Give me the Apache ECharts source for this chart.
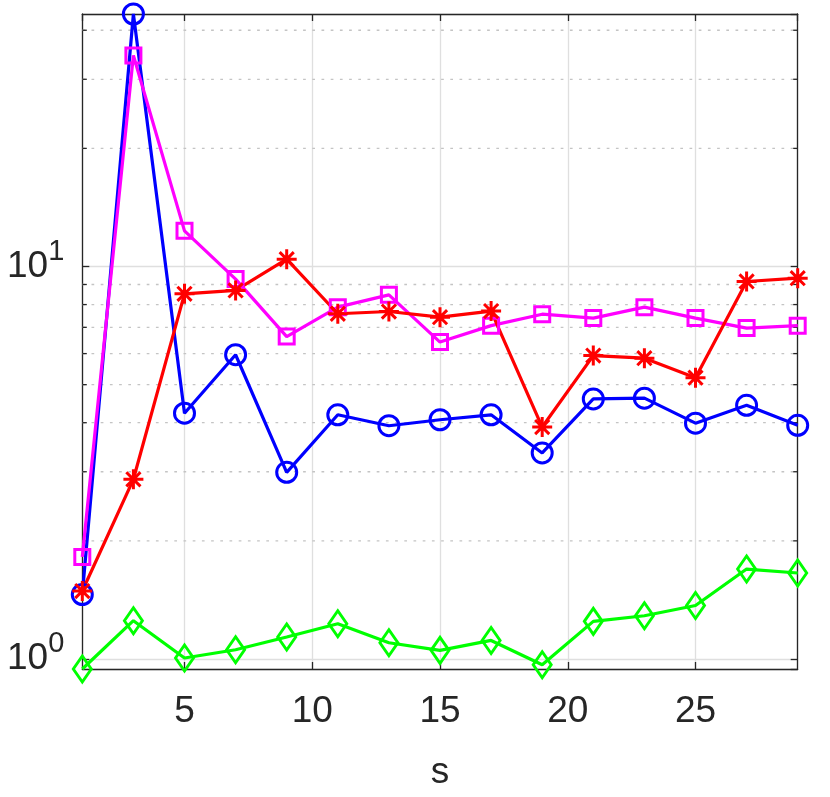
<!DOCTYPE html>
<html>
<head>
<meta charset="utf-8">
<script src="https://cdn.jsdelivr.net/npm/echarts@6/dist/echarts.min.js"></script>
<style>
  html, body { margin: 0; padding: 0; background: #fff; }
  #chart_1 { width: 830px; height: 797px; }
</style>
</head>
<body>
<div id="chart_1"></div>
<script>
// s values (odd steps)
var sValues = [1, 3, 5, 7, 9, 11, 13, 15, 17, 19, 21, 23, 25, 27, 29];
// series
var blueCircle = [1.46, 44.0, 4.23, 5.96, 2.99, 4.19, 3.93, 4.07, 4.19, 3.35, 4.60, 4.62, 3.99, 4.43, 3.94];
var redStar = [1.49, 2.87, 8.52, 8.69, 10.44, 7.58, 7.68, 7.43, 7.70, 3.90, 5.93, 5.84, 5.21, 9.16, 9.34];
var magentaSquare = [1.82, 34.5, 12.33, 9.29, 6.63, 7.88, 8.47, 6.42, 7.07, 7.56, 7.39, 7.88, 7.39, 6.97, 7.07];
var greenDiamond = [0.943, 1.252, 1.006, 1.056, 1.138, 1.23, 1.10, 1.052, 1.115, 0.967, 1.247, 1.289, 1.369, 1.695, 1.656];
// minor log ticks
var minorTicks = [2, 3, 4, 5, 6, 7, 8, 9, 20, 30, 40];
var yMin = 0.943, yMax = 44.0;
var xMin = 1, xMax = 29;

var textColor = '#262626';
var fontFamily = '"Liberation Sans", Arial, Helvetica, sans-serif';

var chart_1 = echarts.init(document.getElementById('chart_1'));

function pairs(vals) {
    var out = [];
    for (var i = 0; i < sValues.length; i++) {
        out.push([sValues[i], vals[i]]);
    }
    return out;
}

var starPath = 'path://M0,-10L0,10M-10,0L10,0M-7.07,-7.07L7.07,7.07M-7.07,7.07L7.07,-7.07';

function lineSeries(vals, color, symbol, size) {
    return {
        type: 'line',
        data: pairs(vals),
        symbol: symbol,
        symbolSize: size,
        showAllSymbol: true,
        clip: false,
        z: 3,
        lineStyle: { color: color, width: 3.2 },
        itemStyle: { color: 'transparent', borderColor: color, borderWidth: 3 },
        emphasis: { disabled: true }
    };
}

var option = {
    animation: false,
    backgroundColor: '#fff',
    textStyle: { fontFamily: fontFamily },
    grid: { left: 82.3, right: 32.3, top: 14, bottom: 128, containLabel: false },
    xAxis: [{
        type: 'value',
        min: xMin,
        max: xMax,
        name: 's',
        nameLocation: 'middle',
        nameGap: 85,
        nameTextStyle: { color: textColor, fontSize: 37, fontFamily: fontFamily },
        axisLine: { show: true, lineStyle: { color: textColor, width: 1.3 } },
        axisTick: { show: true, inside: true, length: 7, lineStyle: { color: textColor, width: 1.3 } },
        axisLabel: { color: textColor, fontSize: 37, margin: 24, showMinLabel: false, showMaxLabel: false, fontFamily: fontFamily },
        splitLine: { show: true, lineStyle: { color: '#dfdfdf', width: 1.3 } }
    }, {
        type: 'value',
        position: 'top',
        min: xMin,
        max: xMax,
        axisLine: { show: true, lineStyle: { color: textColor, width: 1.3 } },
        axisTick: { show: true, inside: true, length: 7, lineStyle: { color: textColor, width: 1.3 } },
        axisLabel: { show: false },
        splitLine: { show: false }
    }],
    yAxis: [{
        type: 'log',
        logBase: 10,
        min: yMin,
        max: yMax,
        axisLine: { show: true, lineStyle: { color: textColor, width: 1.3 } },
        axisTick: { show: true, inside: true, length: 7, lineStyle: { color: textColor, width: 1.3 } },
        axisLabel: {
            color: textColor,
            margin: 18,
            showMinLabel: false,
            showMaxLabel: false,
            formatter: function (v) {
                var e = Math.round(Math.log(v) / Math.LN10);
                return '{b|10}{s|' + e + '}';
            },
            rich: {
                b: { fontSize: 37, color: textColor, fontFamily: fontFamily, verticalAlign: 'bottom', lineHeight: 37 },
                s: { fontSize: 29, color: textColor, fontFamily: fontFamily, verticalAlign: 'bottom', lineHeight: 29, padding: [0, 0, 19, 0] }
            }
        },
        splitLine: { show: true, lineStyle: { color: '#dfdfdf', width: 1.3 } }
    }, {
        type: 'log',
        logBase: 10,
        position: 'right',
        min: yMin,
        max: yMax,
        axisLine: { show: true, lineStyle: { color: textColor, width: 1.3 } },
        axisTick: { show: true, inside: true, length: 7, lineStyle: { color: textColor, width: 1.3 } },
        axisLabel: { show: false },
        splitLine: { show: false }
    }],
    series: [{
        // minor grid lines and minor ticks on both sides
        type: 'custom',
        z: 1,
        silent: true,
        clip: false,
        data: minorTicks.map(function (v) { return [xMin, v]; }),
        renderItem: function (params, api) {
            var p = api.coord([api.value(0), api.value(1)]);
            var cs = params.coordSys;
            var y = p[1];
            return {
                type: 'group',
                children: [{
                    type: 'line',
                    shape: { x1: cs.x, y1: y, x2: cs.x + cs.width, y2: y },
                    style: { stroke: '#c4c4c4', lineWidth: 1.3, lineDash: [2.7, 6.5] }
                }, {
                    type: 'line',
                    shape: { x1: cs.x, y1: y, x2: cs.x + 4.5, y2: y },
                    style: { stroke: textColor, lineWidth: 1.3 }
                }, {
                    type: 'line',
                    shape: { x1: cs.x + cs.width - 4.5, y1: y, x2: cs.x + cs.width, y2: y },
                    style: { stroke: textColor, lineWidth: 1.3 }
                }]
            };
        }
    },
        lineSeries(blueCircle, '#0000ff', 'circle', 20),
        lineSeries(magentaSquare, '#ff00ff', 'rect', 15),
        lineSeries(redStar, '#ff0000', starPath, 20),
        lineSeries(greenDiamond, '#00ff00', 'diamond', [18, 26])
    ]
};

chart_1.setOption(option);
</script>
</body>
</html>
